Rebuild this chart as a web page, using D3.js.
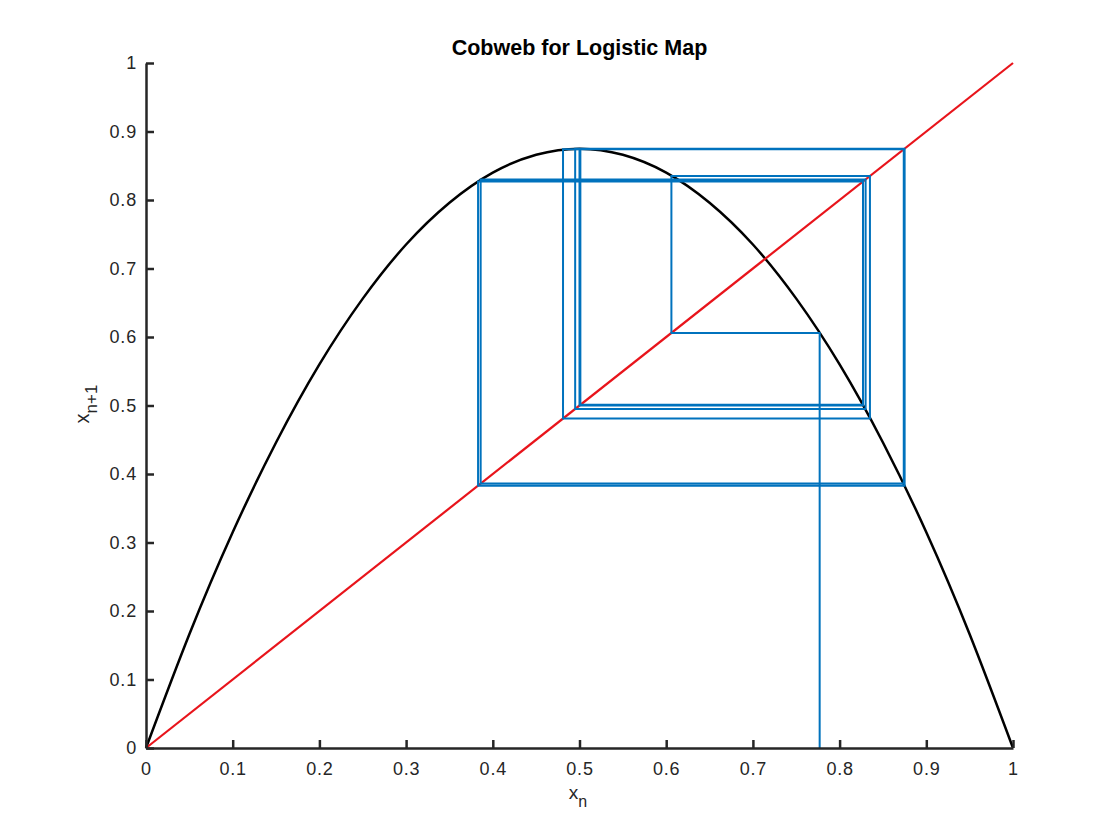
<!DOCTYPE html>
<html><head><meta charset="utf-8">
<script src="https://cdn.jsdelivr.net/npm/d3@7"></script>
<style>body{margin:0;background:#fff;} text{font-family:"Liberation Sans",Arial,Helvetica,sans-serif;}</style>
</head><body>
<svg id="c" width="1120" height="840"></svg>
<script>
// Logistic map curve values read at x = 0, 0.05, ..., 1
const curveX = [0,0.05,0.1,0.15,0.2,0.25,0.3,0.35,0.4,0.45,0.5,0.55,0.6,0.65,0.7,0.75,0.8,0.85,0.9,0.95,1];
const curveY = [0,0.166,0.315,0.446,0.56,0.656,0.735,0.796,0.84,0.866,0.875,0.866,0.84,0.796,0.735,0.656,0.56,0.446,0.315,0.166,0];
// diagonal y = x
const diagX = [0,1];
const diagY = [0,1];
// cobweb iterates x0, x1, x2, ...
const iterates = [0.777,0.606,0.835,0.481,0.874,0.386,0.830,0.495,0.875,0.383,0.827,0.500,0.875,0.383,0.827,0.501,0.875,0.383,0.827,0.501,0.875,0.383,0.827,0.501,0.875,0.383,0.827,0.501,0.875];
const xTicks = [0,0.1,0.2,0.3,0.4,0.5,0.6,0.7,0.8,0.9,1];
const yTicks = [0,0.1,0.2,0.3,0.4,0.5,0.6,0.7,0.8,0.9,1];
const title = "Cobweb for Logistic Map";

const svg = d3.select("#c");
const L=146, R=1013, T=63, B=748;
const x = d3.scaleLinear().domain([0,1]).range([L,R]);
const y = d3.scaleLinear().domain([0,1]).range([B,T]);

// cobweb path points
const web = [[iterates[0],0]];
for(let i=0;i<iterates.length-1;i++){
  web.push([iterates[i],iterates[i+1]]);
  web.push([iterates[i+1],iterates[i+1]]);
}
const line = d3.line().x(d=>x(d[0])).y(d=>y(d[1]));

svg.append("path").datum(curveX.map((v,i)=>[v,curveY[i]]))
  .attr("d", d3.line().x(d=>x(d[0])).y(d=>y(d[1])).curve(d3.curveNatural)).attr("fill","none").attr("stroke","#000").attr("stroke-width",2.5);
svg.append("path").datum(diagX.map((v,i)=>[v,diagY[i]]))
  .attr("d", line).attr("fill","none").attr("stroke","#e8141b").attr("stroke-width",2.2);
svg.append("path").datum(web)
  .attr("d", line).attr("fill","none").attr("stroke","#0072BD").attr("stroke-width",2);

// axes (ticks inward)
const xa = svg.append("g").attr("transform",`translate(0,${B})`)
  .call(d3.axisBottom(x).tickValues(xTicks).tickSizeInner(-8).tickSizeOuter(0).tickPadding(14).tickFormat(d3.format("")));
const ya = svg.append("g").attr("transform",`translate(${L},0)`)
  .call(d3.axisLeft(y).tickValues(yTicks).tickSizeInner(-8).tickSizeOuter(0).tickPadding(9).tickFormat(d3.format("")));
[xa,ya].forEach(g=>{
  g.select(".domain").attr("stroke","#262626").attr("stroke-width",2.5);
  g.selectAll(".tick line").attr("stroke","#262626").attr("stroke-width",2.5);
  g.selectAll(".tick text").attr("fill","#262626").attr("font-size",18).attr("letter-spacing","0.8px")
    .attr("font-family","Liberation Sans, Arial, sans-serif");
});

svg.append("text").attr("x",(L+R)/2).attr("y",55).attr("text-anchor","middle")
  .attr("font-size",21.5).attr("font-weight","bold").attr("fill","#000").text(title);

const xl = svg.append("text").attr("x",578).attr("y",799).attr("text-anchor","middle").attr("font-size",19).attr("fill","#262626");
xl.append("tspan").text("x");
xl.append("tspan").attr("font-size",16).attr("dy",8).text("n");

const yl = svg.append("text").attr("transform","translate(89,404) rotate(-90)").attr("text-anchor","middle").attr("font-size",20).attr("fill","#262626");
yl.append("tspan").text("x");
yl.append("tspan").attr("font-size",17).attr("dy",8).text("n+1");
</script>
</body></html>
